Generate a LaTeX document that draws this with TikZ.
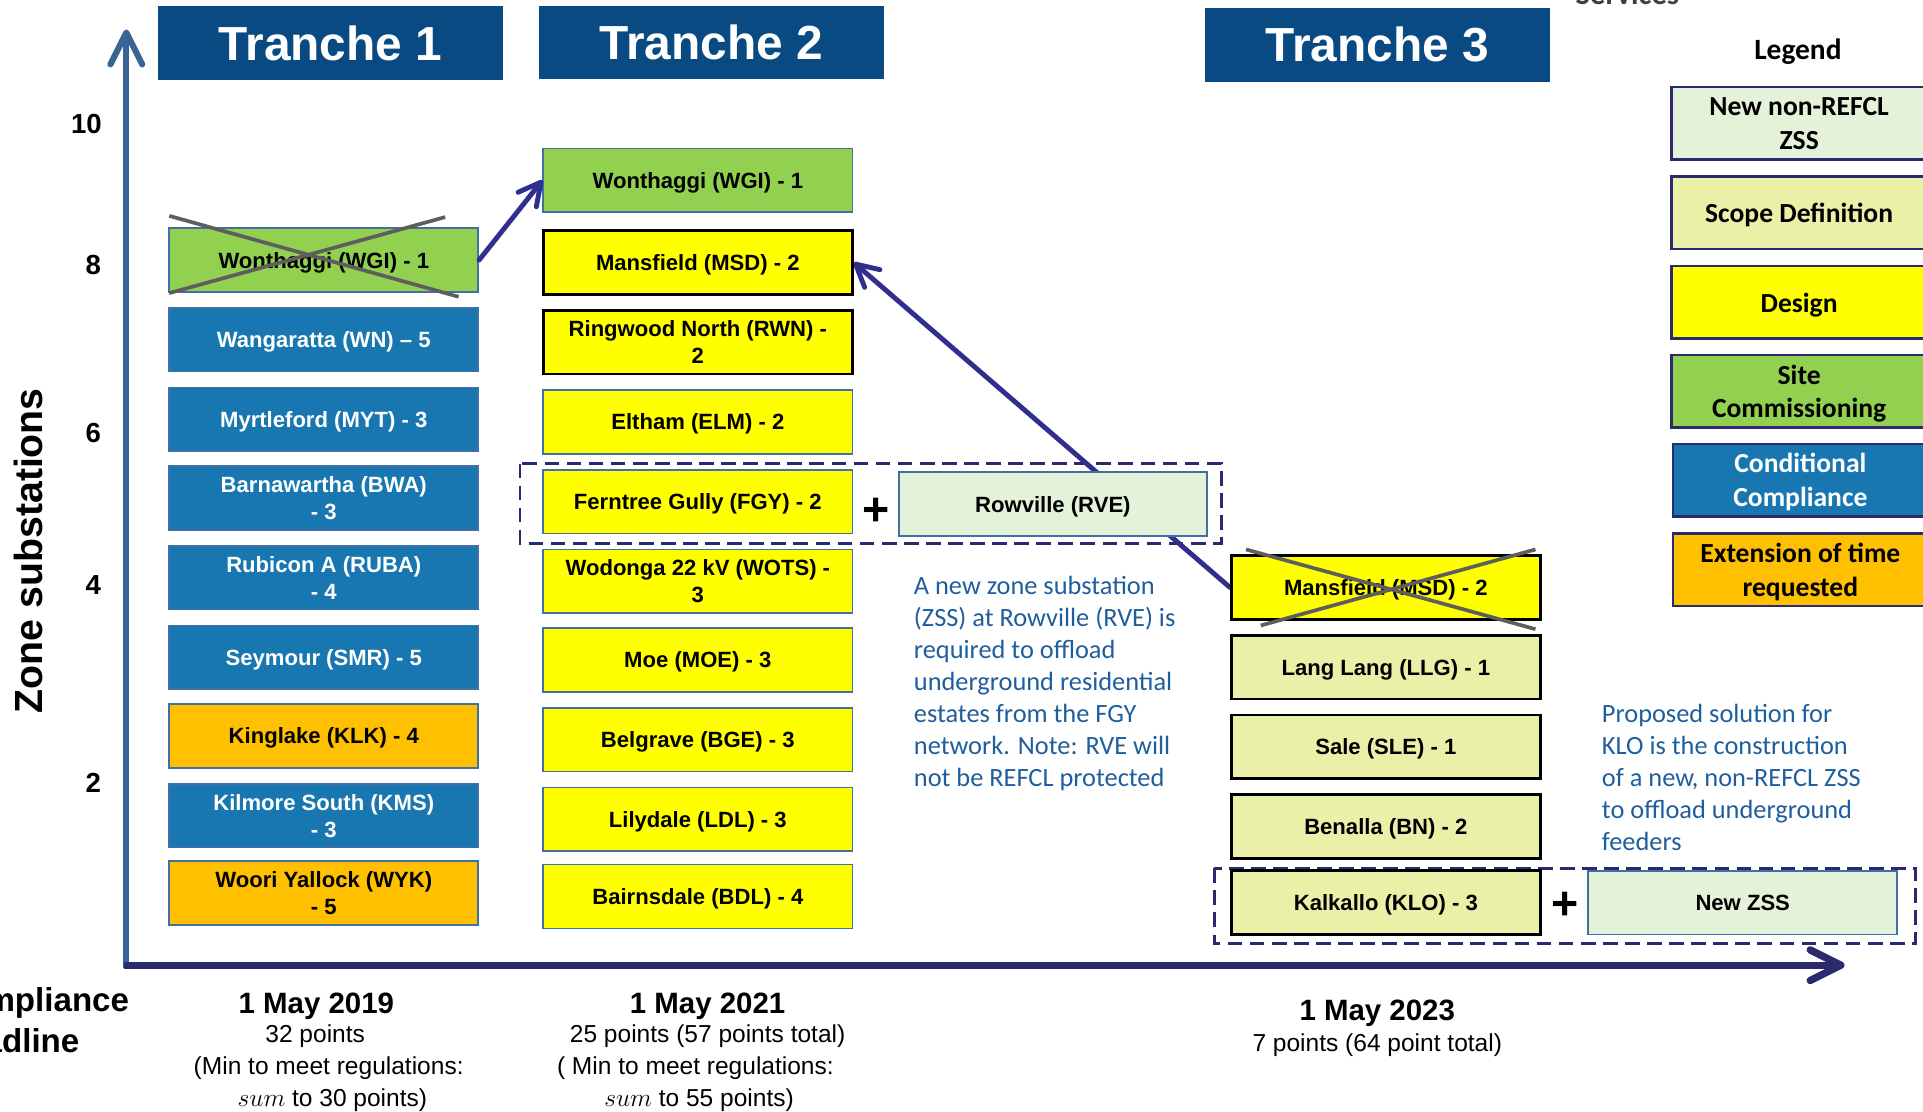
\documentclass[tikz,border=0pt]{standalone}
\usepackage{fontspec}
\setmainfont{Liberation Sans}
\newfontfamily\carlito{Carlito}
\usetikzlibrary{arrows.meta}
\definecolor{hdrblue}{HTML}{0A4A83}
\definecolor{cblue}{HTML}{1877B0}
\definecolor{cedge}{HTML}{4170A6}
\definecolor{cgreen}{HTML}{92D050}
\definecolor{cyellow}{HTML}{FFFF00}
\definecolor{corange}{HTML}{FFC000}
\definecolor{cpale}{HTML}{EBF0A8}
\definecolor{clight}{HTML}{E4F2D9}
\definecolor{navy}{HTML}{2B2A6E}
\definecolor{arrnavy}{HTML}{302F8E}
\definecolor{axisblue}{HTML}{3A6396}
\definecolor{txtblue}{HTML}{1F5E9C}
\definecolor{crossgray}{HTML}{5E5E5E}
\pgfdeclarelayer{bg}
\pgfsetlayers{bg,main}
\begin{document}
\begin{tikzpicture}[x=1pt,y=-1pt,
  hdr/.style={fill=hdrblue, text=white, minimum width=281pt, minimum height=60pt, inner sep=0pt,
    font=\bfseries\fontsize{39}{44}\selectfont},
  sbox/.style={draw, line width=1.4pt, minimum width=252pt, minimum height=52pt, inner sep=0pt,
    text depth=0pt, align=center, font=\bfseries\fontsize{18}{22}\selectfont},
  bbox/.style={sbox, fill=cblue, draw=cedge, text=white},
  gbox/.style={sbox, fill=cgreen, draw=cedge},
  obox/.style={sbox, fill=corange, draw=cedge},
  ybox/.style={sbox, fill=cyellow, draw=cedge},
  ykbox/.style={sbox, fill=cyellow, draw=black, line width=2.2pt},
  pbox/.style={sbox, fill=cpale, draw=black, line width=2.2pt},
  lbox/.style={sbox, fill=clight, draw=cedge},
  leg/.style={draw=navy, line width=2pt, minimum width=208pt, minimum height=59pt, inner sep=0pt,
    text depth=0pt, align=center, font=\carlito\bfseries\fontsize{22.5}{27.5}\selectfont},
  para/.style={align=left, inner sep=0pt, text=txtblue, font=\carlito\fontsize{21.5}{26}\selectfont},
  plus/.style={inner sep=0pt, font=\bfseries\fontsize{38}{38}\selectfont},
  ylab/.style={inner sep=0pt, font=\bfseries\fontsize{22.5}{24}\selectfont},
  bot/.style={inner sep=0pt, anchor=base, font=\fontsize{20}{24}\selectfont},
  datelab/.style={inner sep=0pt, anchor=base, font=\bfseries\fontsize{24}{28}\selectfont},
  dashbox/.style={draw=navy, line width=2.4pt, dash pattern=on 12pt off 6pt},
  xline/.style={draw=crossgray, line width=3pt},
  arr/.style={draw=arrnavy, line width=4pt, line cap=round,
    -{Straight Barb[length=18pt,width=19pt,round]}},
  axisy/.style={draw=axisblue, line width=5pt, -{Straight Barb[length=26pt,width=26pt,round]}},
  axisx/.style={draw=navy, line width=6pt, -{Straight Barb[length=25pt,width=25pt,round]}}
]
\useasboundingbox (0,0) rectangle (1568,906);
\clip (0,0) rectangle (1568,906);

% headers
\node[hdr] (t1) at (269.5,35) {Tranche 1};
\node[hdr] (t2) at (580,34.5) {Tranche 2};
\node[hdr] (t3) at (1123,36.5) {Tranche 3};
\node[inner sep=0pt, anchor=base, text=black!75, font=\carlito\bfseries\fontsize{25}{28}\selectfont] (svc) at (1327,4) {Services};

% axes
\draw[axisy] (103,789) -- (103,24);
\draw[axisx] (101,787) -- (1504,787);
\node[ylab] (y10) at (70.5,101) {10};
\node[ylab] (y8) at (76,216) {8};
\node[ylab] (y6) at (76,353) {6};
\node[ylab] (y4) at (76,477) {4};
\node[ylab] (y2) at (76,638) {2};
\node[rotate=90, inner sep=0pt, font=\bfseries\fontsize{32}{34}\selectfont] (zs) at (23,449) {Zone substations};
\node[inner sep=0pt, anchor=base west, font=\bfseries\fontsize{27}{30}\selectfont] (cd1) at (-48,825) {Compliance};
\node[inner sep=0pt, anchor=base west, font=\bfseries\fontsize{27}{30}\selectfont] (cd2) at (-48,858) {Deadline};

% column 1
\node[gbox] (c1a) at (264,212) {Wonthaggi (WGI) - 1};
\node[bbox] (c1b) at (264,277) {Wangaratta (WN) – 5};
\node[bbox] (c1c) at (264,342) {Myrtleford (MYT) - 3};
\node[bbox] (c1d) at (264,406) {Barnawartha (BWA)\\- 3};
\node[bbox] (c1e) at (264,471) {Rubicon A (RUBA)\\- 4};
\node[bbox] (c1f) at (264,536) {Seymour (SMR) - 5};
\node[obox] (c1g) at (264,600) {Kinglake (KLK) - 4};
\node[bbox] (c1h) at (264,665) {Kilmore South (KMS)\\- 3};
\node[obox] (c1i) at (264,728) {Woori Yallock (WYK)\\- 5};

% column 2
\node[gbox] (c2a) at (569,147) {Wonthaggi (WGI) - 1};
\node[ykbox] (c2b) at (569,214) {Mansfield (MSD) - 2};
\node[ykbox] (c2c) at (569,279) {Ringwood North (RWN) -\\2};
\node[ybox] (c2d) at (569,344) {Eltham (ELM) - 2};
\node[ybox] (c2e) at (569,409) {Ferntree Gully (FGY) - 2};
\node[ybox] (c2f) at (569,474) {Wodonga 22 kV (WOTS) -\\3};
\node[ybox] (c2g) at (569,538) {Moe (MOE) - 3};
\node[ybox] (c2h) at (569,603) {Belgrave (BGE) - 3};
\node[ybox] (c2i) at (569,668) {Lilydale (LDL) - 3};
\node[ybox] (c2j) at (569,731) {Bairnsdale (BDL) - 4};
\node[lbox, minimum width=251pt] (rve) at (858.5,411) {Rowville (RVE)};
\node[plus] (p1) at (714,417) {+};

% column 3
\node[ykbox] (c3a) at (1130,479) {Mansfield (MSD) - 2};
\node[pbox] (c3b) at (1130,544) {Lang Lang (LLG) - 1};
\node[pbox] (c3c) at (1130,609) {Sale (SLE) - 1};
\node[pbox] (c3d) at (1130,674) {Benalla (BN) - 2};
\node[pbox] (c3e) at (1130,736) {Kalkallo (KLO) - 3};
\node[lbox] (nzss) at (1421,736) {New ZSS};
\node[plus] (p2) at (1276,739) {+};

% dashed groups and connectors
\begin{pgfonlayer}{bg}
\draw[dashbox] (424,378) rectangle (996,443);
\draw[dashbox] (990,708) rectangle (1562,769);
\draw[arr] (c3a.west) -- (c2b.east);
\end{pgfonlayer}
\draw[arr] (c1a.east) -- (c2a.west);

% crosses
\draw[xline] (138,176) -- (374,242);
\draw[xline] (138,239) -- (363,177);
\draw[xline] (1016,448) -- (1252,513);
\draw[xline] (1028,510) -- (1252,448);

% notes
\node[para, anchor=north west] (note1) at (745,470) {A new zone substation\\(ZSS) at Rowville (RVE) is\\required to offload\\underground residential\\estates from the FGY\\network. Note: RVE will\\not be REFCL protected};
\node[para, anchor=north west] (note2) at (1306,574) {Proposed solution for\\KLO is the construction\\of a new, non-REFCL ZSS\\to offload underground\\feeders};

% legend
\node[inner sep=0pt, font=\carlito\bfseries\fontsize{24}{28}\selectfont] (legt) at (1466,42) {Legend};
\node[leg, fill=clight] (l1) at (1467,100.5) {New non-REFCL\\ZSS};
\node[leg, fill=cpale] (l2) at (1467,173.5) {Scope Definition};
\node[leg, fill=cyellow] (l3) at (1467,246.5) {Design};
\node[leg, fill=cgreen] (l4) at (1467,319) {Site\\Commissioning};
\node[leg, fill=cblue, text=white] (l5) at (1468,391.5) {Conditional\\Compliance};
\node[leg, fill=corange] (l6) at (1468,464.5) {Extension of time\\requested};

% bottom labels
\node[datelab] (d1) at (258,826) {1 May 2019};
\node[bot] (d1a) at (257,850) {32 points};
\node[bot] (d1b) at (268,876) {(Min to meet regulations:};
\node[bot] (d1c) at (271,902) {$sum$ to 30 points)};
\node[datelab] (d2) at (577,826) {1 May 2021};
\node[bot] (d2a) at (577,850) {25 points (57 points total)};
\node[bot] (d2b) at (567,876) {( Min to meet regulations:};
\node[bot] (d2c) at (570,902) {$sum$ to 55 points)};
\node[datelab] (d3) at (1123,832) {1 May 2023};
\node[bot] (d3a) at (1123,857) {7 points (64 point total)};
\end{tikzpicture}
\end{document}
